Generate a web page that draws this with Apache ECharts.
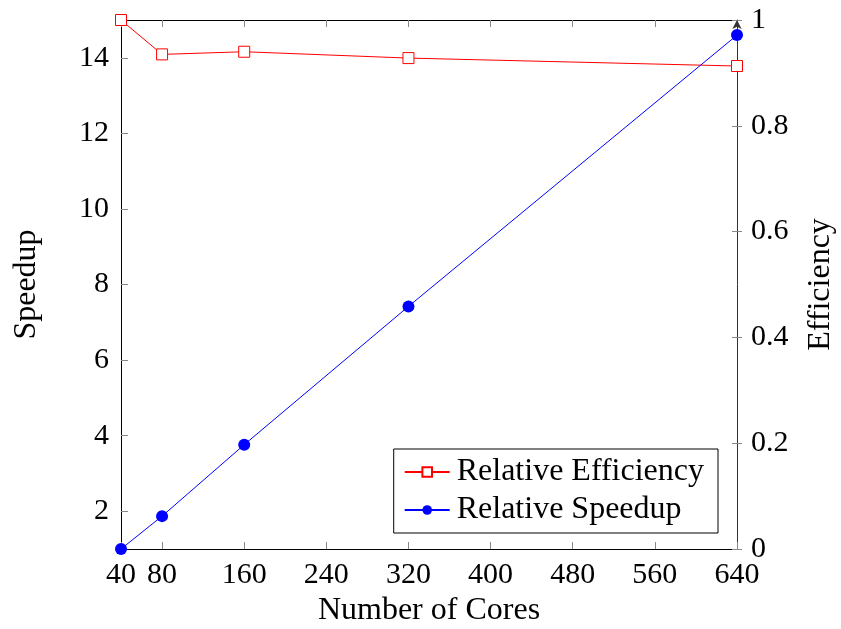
<!DOCTYPE html>
<html>
<head>
<meta charset="utf-8">
<script src="https://cdn.jsdelivr.net/npm/echarts@6/dist/echarts.min.js"></script>
<style>html,body{margin:0;padding:0;background:#fff;}#c{width:841px;height:629px;}</style>
</head>
<body>
<div id="c"></div>
<script>
const cores = [40, 80, 160, 320, 640];
const speedup = [1, 1.87, 3.76, 7.42, 14.6];
const efficiency = [1, 0.935, 0.94, 0.928, 0.913];
const xTicks = [40, 80, 160, 240, 320, 400, 480, 560, 640];
const speedupTicks = [2, 4, 6, 8, 10, 12, 14];

const FONT = 'Liberation Serif';
const FS = 30;
const chart = echarts.init(document.getElementById('c'), null, {renderer: 'canvas'});
const txt = {fontFamily: FONT, fontSize: FS, color: '#000'};
const nameTxt = {fontFamily: FONT, fontSize: 32, color: '#000'};
chart.setOption({
  animation: false,
  backgroundColor: '#fff',
  grid: {left: 121, right: 104, top: 20, bottom: 80, containLabel: false, outerBoundsMode: 'none'},
  legend: {
    orient: 'vertical',
    right: 123, bottom: 96,
    padding: [7, 14, 7, 10],
    itemGap: 6,
    itemWidth: 45, itemHeight: 12,
    borderColor: '#000', borderWidth: 1,
    backgroundColor: '#fff',
    textStyle: {fontFamily: FONT, fontSize: 32, color: '#000', padding: [0, 0, 0, 2]},
    data: ['Relative Efficiency', 'Relative Speedup']
  },
  xAxis: [{
    type: 'value', min: 40, max: 640,
    name: 'Number of Cores', nameLocation: 'middle', nameGap: 46,
    nameTextStyle: nameTxt,
    axisLine: {show: true, onZero: false, lineStyle: {color: '#000', width: 1}},
    axisTick: {show: true, inside: true, length: 7, customValues: xTicks, lineStyle: {color: '#888'}},
    axisLabel: Object.assign({margin: 11, customValues: xTicks}, txt),
    splitLine: {show: false}
  }, {
    type: 'value', min: 40, max: 640, position: 'top',
    axisLine: {show: true, onZero: false, lineStyle: {color: '#000', width: 1}},
    axisTick: {show: true, inside: true, length: 7, customValues: xTicks, lineStyle: {color: '#888'}},
    axisLabel: {show: false},
    splitLine: {show: false}
  }],
  yAxis: [{
    type: 'value', min: 1, max: 15, position: 'left',
    name: 'Speedup', nameLocation: 'middle', nameGap: 78, nameRotate: 90,
    nameTextStyle: nameTxt,
    axisLine: {show: true, onZero: false, lineStyle: {color: '#000', width: 1}},
    axisTick: {show: true, inside: true, length: 7, customValues: speedupTicks, lineStyle: {color: '#888'}},
    axisLabel: Object.assign({margin: 12, customValues: speedupTicks}, txt),
    splitLine: {show: false}
  }, {
    type: 'value', min: 0, max: 1, interval: 0.2, position: 'right',
    name: 'Efficiency', nameLocation: 'middle', nameGap: 68, nameRotate: 90,
    nameTextStyle: nameTxt,
    axisLine: {show: true, onZero: false, symbol: ['none', 'arrow'], symbolSize: [7, 9], symbolOffset: [0, 0], lineStyle: {color: '#333', width: 1}},
    axisTick: {show: true, inside: true, length: 5, lineStyle: {color: '#888'}},
    axisLabel: Object.assign({margin: 14}, txt),
    splitLine: {show: false}
  }, {
    type: 'value', min: 0, max: 1, interval: 0.2, position: 'right',
    axisLine: {show: false, onZero: false},
    axisTick: {show: true, inside: false, length: 5, lineStyle: {color: '#888'}},
    axisLabel: {show: false},
    splitLine: {show: false}
  }],
  series: [{
    name: 'Relative Efficiency', type: 'line', yAxisIndex: 1,
    data: cores.map((c, i) => [c, efficiency[i]]),
    symbol: 'rect', symbolSize: 11,
    lineStyle: {color: '#ff0000', width: 1},
    itemStyle: {color: '#fff', borderColor: '#ff0000', borderWidth: 1},
    clip: false, z: 3
  }, {
    name: 'Relative Speedup', type: 'line', yAxisIndex: 0,
    data: cores.map((c, i) => [c, speedup[i]]),
    symbol: 'circle', symbolSize: 12,
    lineStyle: {color: '#0000ff', width: 1},
    itemStyle: {color: '#0000ff'},
    clip: false, z: 4
  }]
});
</script>
</body>
</html>
